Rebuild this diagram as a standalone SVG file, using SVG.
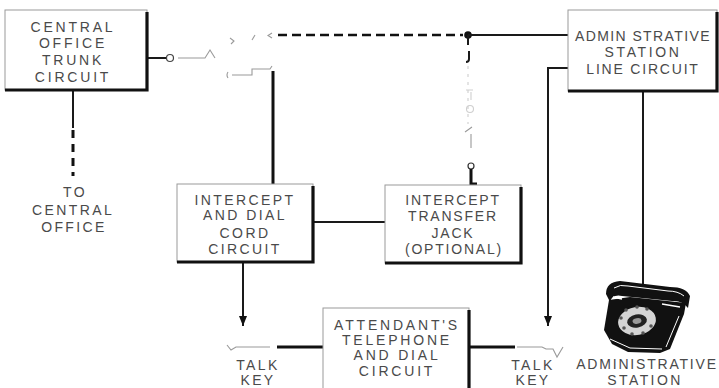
<svg xmlns="http://www.w3.org/2000/svg" width="719" height="388" viewBox="0 0 719 388">
  <defs>
    <style>
      .box { fill: #fff; stroke: #9a9a9a; stroke-width: 1; }
      .shadow { fill: none; stroke: #111; stroke-width: 3.2; }
      .lbl { font-family: "Liberation Sans", Arial, sans-serif; font-size: 14px; fill: #4a4a4a; text-anchor: middle; letter-spacing: 2.4px; }
      .wire { fill: none; stroke: #1a1a1a; stroke-width: 2; }
      .heavy { fill: none; stroke: #111; stroke-width: 3; }
      .faint { fill: none; stroke: #9a9a9a; stroke-width: 1.1; }
      .dash { fill: none; stroke: #111; stroke-width: 2.6; stroke-dasharray: 9 5; }
    </style>
    <marker id="tip" viewBox="0 0 8 10" refX="4" refY="10" markerWidth="8" markerHeight="10" markerUnits="userSpaceOnUse">
      <path d="M0,0 L4,10 L8,0 Z" fill="#111"/>
    </marker>
  </defs>

  <rect width="719" height="388" fill="#fff"/>

  <!-- wiring -->
  <g id="connectors">
    <!-- trunk circuit to switch contacts -->
    <path class="wire" d="M147,58 H166"/>
    <circle cx="170" cy="58" r="3.5" fill="#fff" stroke="#444" stroke-width="1.2"/>
    <path class="faint" d="M178,58 H205 L210,50 L215,58"/>
    <!-- upper contact springs -->
    <path class="faint" d="M230,38 L234,41 L231,44"/>
    <path class="faint" d="M252,40 L255,35"/>
    <path class="faint" d="M272,33 L268,35.5 L272,38"/>
    <!-- lower contact springs -->
    <path class="faint" d="M228,72 Q226,75 228,78 M232,75 H252 V69 H270 L272,66"/>
    <!-- trunk to intercept cord circuit -->
    <path class="heavy" d="M273,71 V184"/>
    <!-- dashed intercept path to line circuit -->
    <path class="dash" d="M278,35 H463"/>
    <circle cx="468" cy="35" r="3.8" fill="#111"/>
    <path class="wire" d="M468,35 H568" stroke-width="1.8"/>
    <!-- transfer jack branch -->
    <path class="wire" d="M468,35 V45"/>
    <path class="wire" d="M469,51 V59 Q469,62 466,62"/>
    <path d="M468,66 V124" fill="none" stroke="#d2d2d2" stroke-width="1.2" stroke-dasharray="3 5"/>
    <path d="M466,90 H473 M471,92 V100" fill="none" stroke="#cfcfcf" stroke-width="1.1"/>
    <circle cx="470" cy="109" r="3.5" fill="none" stroke="#cfcfcf" stroke-width="1.1"/>
    <path class="faint" d="M465,132 L472,127 M471,134 V148"/>
    <circle cx="471" cy="166" r="3" fill="#fff" stroke="#333" stroke-width="1.2"/>
    <path class="heavy" d="M471,169 V184 H477" stroke-width="2.4"/>
    <!-- trunk to central office -->
    <path class="wire" d="M73,90 V128"/>
    <path d="M73,130 V176" fill="none" stroke="#111" stroke-width="3" stroke-dasharray="8 6"/>
    <!-- cord circuit to transfer jack -->
    <path class="wire" d="M313,222 H385"/>
    <!-- cord circuit to left talk key -->
    <path class="wire" d="M243,262 V326" marker-end="url(#tip)"/>
    <path class="faint" d="M227,345 L231,350 L236,347 H270"/>
    <path class="heavy" d="M277,347 H323"/>
    <!-- line circuit to right talk key -->
    <path class="wire" d="M568,68 H548 V326" marker-end="url(#tip)"/>
    <path class="faint" d="M517,347 H542 L546,349 H553 L557,357 L563,347"/>
    <path class="heavy" d="M469,347 H515"/>
    <!-- line circuit to station -->
    <path class="wire" d="M643,91 V284"/>
  </g>

  <g id="trunk-circuit">
    <rect class="box" x="5" y="10" width="142" height="80"/>
    <path class="shadow" d="M147,12 V90 H5"/>
    <text class="lbl" x="73" y="32" style="letter-spacing:2.8px">CENTRAL</text>
    <text class="lbl" x="73" y="48" style="letter-spacing:2.8px">OFFICE</text>
    <text class="lbl" x="73" y="65" style="letter-spacing:2.8px">TRUNK</text>
    <text class="lbl" x="73" y="82" style="letter-spacing:2.8px">CIRCUIT</text>
  </g>

  <g id="to-central-office">
    <text class="lbl" x="75" y="197">TO</text>
    <text class="lbl" x="73" y="215">CENTRAL</text>
    <text class="lbl" x="74" y="232">OFFICE</text>
  </g>

  <g id="line-circuit">
    <rect class="box" x="568" y="10" width="149" height="81"/>
    <path class="shadow" d="M717,12 V91 H568"/>
    <text class="lbl" x="643" y="41" style="letter-spacing:1.4px">ADMIN STRATIVE</text>
    <text class="lbl" x="643" y="57" style="letter-spacing:2.6px">STATION</text>
    <text class="lbl" x="643" y="74" style="letter-spacing:1.8px">LINE  CIRCUIT</text>
  </g>

  <g id="cord-circuit">
    <rect class="box" x="177" y="184" width="136" height="78"/>
    <path class="shadow" d="M313,186 V262 H177"/>
    <text class="lbl" x="245" y="205">INTERCEPT</text>
    <text class="lbl" x="245" y="220">AND DIAL</text>
    <text class="lbl" x="245" y="238">CORD</text>
    <text class="lbl" x="245" y="254">CIRCUIT</text>
  </g>

  <g id="transfer-jack">
    <rect class="box" x="385" y="185" width="136" height="78"/>
    <path class="shadow" d="M521,187 V263 H385"/>
    <text class="lbl" x="453" y="205" style="letter-spacing:1.8px">INTERCEPT</text>
    <text class="lbl" x="453" y="221" style="letter-spacing:1.8px">TRANSFER</text>
    <text class="lbl" x="453" y="238" style="letter-spacing:1.8px">JACK</text>
    <text class="lbl" x="454" y="254" style="letter-spacing:1.8px">(OPTIONAL)</text>
  </g>

  <g id="attendant-circuit">
    <rect class="box" x="323" y="308" width="146" height="86"/>
    <path class="shadow" d="M469,310 V394"/>
    <text class="lbl" x="397" y="330" style="letter-spacing:2.8px">ATTENDANT'S</text>
    <text class="lbl" x="397" y="345" style="letter-spacing:2.8px">TELEPHONE</text>
    <text class="lbl" x="397" y="360" style="letter-spacing:2.8px">AND DIAL</text>
    <text class="lbl" x="397" y="376" style="letter-spacing:2.8px">CIRCUIT</text>
  </g>

  <g id="talk-key-left">
    <text class="lbl" x="258" y="370">TALK</text>
    <text class="lbl" x="258" y="385">KEY</text>
  </g>

  <g id="talk-key-right">
    <text class="lbl" x="533" y="370">TALK</text>
    <text class="lbl" x="533" y="385">KEY</text>
  </g>

  <g id="administrative-station">
    <!-- desk telephone: body -->
    <path d="M609,300 L630,297 L686,303 L684,314 L670,349 L660,353 L628,352 L612,344 L604,330 Z" fill="#111"/>
    <!-- handset resting on the cradle -->
    <path d="M606,294 Q606,282 620,281 L670,287 Q686,287 690,296 L688,308 Q682,300 672,301 L622,296 Q612,294 610,302 Z" fill="#111"/>
    <path d="M614,288 Q620,284 628,286 L668,291 Q678,291 684,296" fill="none" stroke="#fff" stroke-width="1"/>
    <path d="M613,297 L622,299 M662,304 L680,307" fill="none" stroke="#fff" stroke-width="1.3"/>
    <path d="M610,339 L630,348 L662,349 M666,347 L679,316" fill="none" stroke="#fff" stroke-width="1"/>
    <!-- dial -->
    <ellipse cx="637" cy="321" rx="20" ry="15" fill="#d4d4d4" stroke="#111" stroke-width="2" transform="rotate(-10 637 321)"/>
    <g fill="#555">
      <circle cx="621" cy="318" r="1.8"/>
      <circle cx="624" cy="328" r="1.8"/>
      <circle cx="632" cy="334" r="1.8"/>
      <circle cx="643" cy="333" r="1.8"/>
      <circle cx="651" cy="326" r="1.8"/>
      <circle cx="626" cy="310" r="1.8"/>
      <circle cx="637" cy="307" r="1.8"/>
      <circle cx="647" cy="309" r="1.8"/>
    </g>
    <ellipse cx="637" cy="321" rx="10" ry="6.5" fill="#222" transform="rotate(-10 637 321)"/>
    <ellipse cx="637" cy="321" rx="4.5" ry="2.8" fill="#9a9a9a" transform="rotate(-10 637 321)"/>
    <text class="lbl" x="647" y="369" style="letter-spacing:1.8px">ADMINISTRATIVE</text>
    <text class="lbl" x="645" y="385" style="letter-spacing:2.4px">STATION</text>
  </g>
</svg>
